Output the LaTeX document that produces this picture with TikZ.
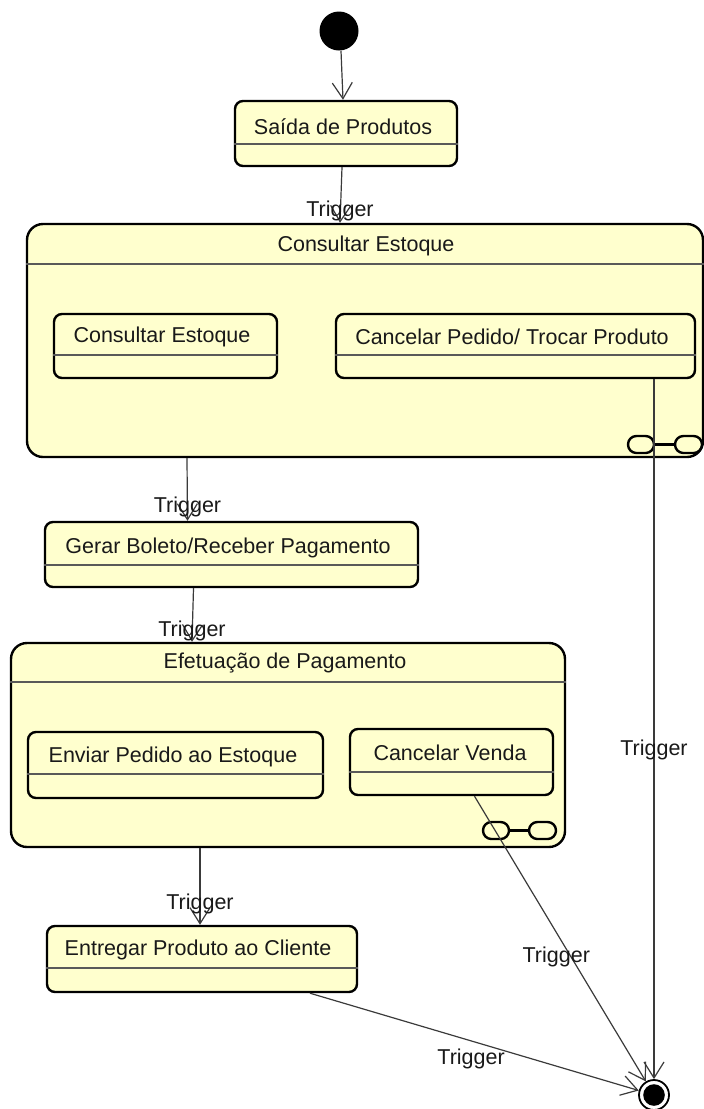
\documentclass[tikz,border=0pt]{standalone}
\usepackage{fontspec}
\setmainfont{Liberation Sans}
\usetikzlibrary{arrows.meta,fit}
\definecolor{statefill}{HTML}{FFFFCE}
\definecolor{wire}{HTML}{3A3A3A}
\begin{document}
\begin{tikzpicture}[x=0.5pt,y=-0.5pt,
  font=\fontsize{10.75}{13}\selectfont,
  statebox/.style={rectangle, draw=black, line width=1.2pt, fill=statefill,
    rounded corners=4pt, inner sep=0pt},
  compbox/.style={statebox, rounded corners=8pt},
  divline/.style={draw=black!65, line width=0.55pt},
  txt/.style={inner sep=0pt, text=black!90},
  tr/.style={draw=wire, line width=0.6pt, -{Straight Barb[length=8pt,width=10pt]}},
  lbl/.style={inner sep=0pt, text=black!90},
  capsule/.style={draw=black, line width=1.2pt, rounded corners=4.2pt}]

\useasboundingbox (0,0) rectangle (704,1109);

% initial and final pseudo-states
\node[circle, fill=black, minimum size=19.5pt, inner sep=0pt] (init) at (339,31) {};
\node[circle, draw=black, line width=0.9pt, fill=white, minimum size=15pt, inner sep=0pt,
  path picture={\fill[black] (path picture bounding box.center) circle (5.4pt);}]
  (fin) at (654,1095) {};

% Saída de Produtos
\node[statebox, fit={(235,101) (457,166)}] (sp) {};
\draw[divline] (sp.west |- 0,144) -- (sp.east |- 0,144);
\node[txt] (sp-t) at (343,127) {Saída de Produtos};

% composite: Consultar Estoque
\node[compbox, fit={(27,224) (703,457)}] (ce) {};
\draw[divline] (ce.west |- 0,264) -- (ce.east |- 0,264);
\node[txt] (ce-t) at (366,246) {Consultar Estoque};

\node[statebox, fit={(54,314) (277,378)}] (cs) {};
\draw[divline] (cs.west |- 0,355) -- (cs.east |- 0,355);
\node[txt] (cs-t) at (162,337) {Consultar Estoque};

\node[statebox, fit={(336,314) (695,378)}] (cp) {};
\draw[divline] (cp.west |- 0,355) -- (cp.east |- 0,355);
\node[txt] (cp-t) at (512,337) {Cancelar Pedido/ Trocar Produto};

% decomposition icon
\draw[capsule] (628,436) rectangle (654,453);
\draw[capsule] (675,436) rectangle (702,453);
\draw[line width=1.2pt] (654,444.5) -- (675,444.5);

% Gerar Boleto/Receber Pagamento
\node[statebox, fit={(45,522) (418,587)}] (gb) {};
\draw[divline] (gb.west |- 0,565) -- (gb.east |- 0,565);
\node[txt] (gb-t) at (228,548) {Gerar Boleto/Receber Pagamento};

% composite: Efetuação de Pagamento
\node[compbox, fit={(11,643) (565,847)}] (ef) {};
\draw[divline] (ef.west |- 0,682) -- (ef.east |- 0,682);
\node[txt] (ef-t) at (285,663) {Efetuação de Pagamento};

\node[statebox, fit={(28,732) (323,798)}] (ep) {};
\draw[divline] (ep.west |- 0,774) -- (ep.east |- 0,774);
\node[txt] (ep-t) at (173,757) {Enviar Pedido ao Estoque};

\node[statebox, fit={(350,729) (553,795)}] (cv) {};
\draw[divline] (cv.west |- 0,772) -- (cv.east |- 0,772);
\node[txt] (cv-t) at (450,753) {Cancelar Venda};

% decomposition icon
\draw[capsule] (483,822) rectangle (509,839);
\draw[capsule] (529,822) rectangle (556,839);
\draw[line width=1.2pt] (509,830.5) -- (529,830.5);

% Entregar Produto ao Cliente
\node[statebox, fit={(47,926) (357,992)}] (en) {};
\draw[divline] (en.west |- 0,968) -- (en.east |- 0,968);
\node[txt] (en-t) at (198,950) {Entregar Produto ao Cliente};

% transitions
\draw[tr] ([xshift=1pt]init.south) -- ([xshift=2pt]init.south |- sp.north);
\draw[tr] ([xshift=-2pt]sp.south) -- ([xshift=-3pt]sp.south |- ce.north)
  node[lbl, at end, yshift=6pt] {Trigger};
\draw[tr] ([xshift=-89pt]ce.south) -- ([xshift=-22pt]gb.north)
  node[lbl, at end, yshift=7pt] {Trigger};
\draw[tr] ([xshift=-19pt]gb.south) -- ([xshift=-48pt]ef.north)
  node[lbl, at end, yshift=5.5pt] {Trigger};
\draw[tr] ([xshift=-44pt]ef.south) -- ([xshift=-1pt]en.north)
  node[lbl, at end, yshift=10.5pt] {Trigger};
\draw[tr] (fin.north |- cp.south) -- (fin.north)
  node[lbl, pos=0.53] {Trigger};
\draw[tr] ([xshift=11.5pt]cv.south) -- (fin)
  node[lbl, pos=0.565, xshift=-7.5pt] {Trigger};
\draw[tr] ([xshift=54pt]en.south) -- (fin)
  node[lbl, pos=0.49, yshift=-9pt] {Trigger};
\end{tikzpicture}
\end{document}
